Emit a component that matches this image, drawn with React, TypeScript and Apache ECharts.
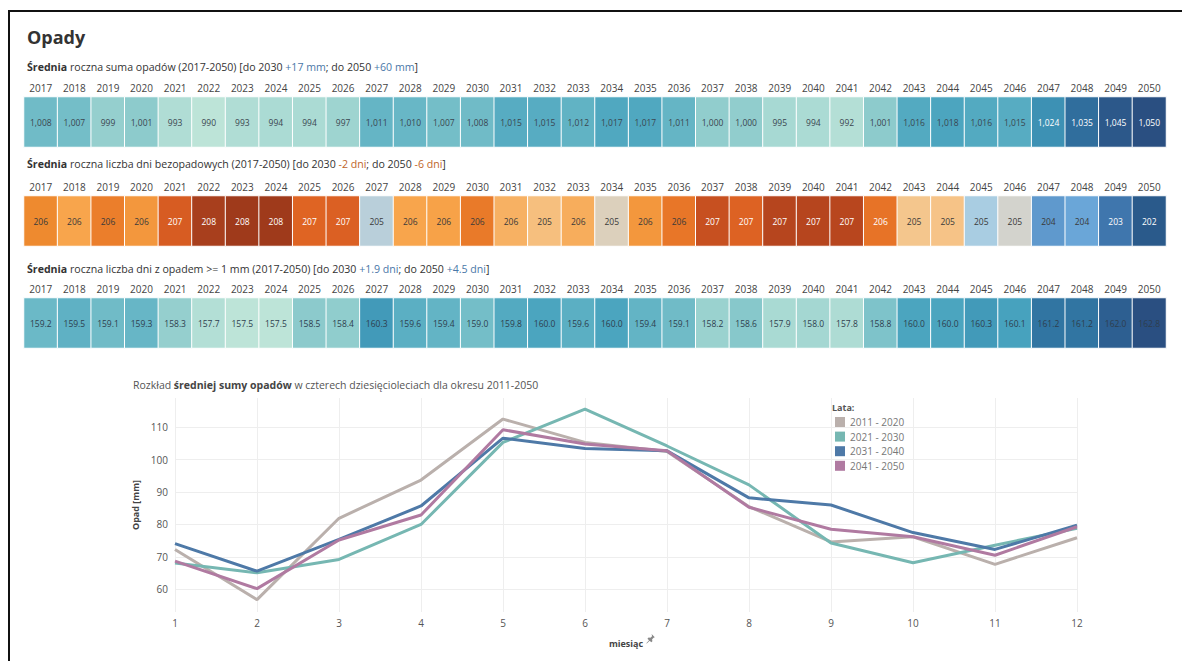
import React, { useEffect, useRef } from 'react';
import * as echarts from 'echarts';

const years = ['2017','2018','2019','2020','2021','2022','2023','2024','2025','2026','2027','2028','2029','2030','2031','2032','2033','2034','2035','2036','2037','2038','2039','2040','2041','2042','2043','2044','2045','2046','2047','2048','2049','2050'];

// Średnia roczna suma opadów [mm]
const rainfallSum = [1008,1007,999,1001,993,990,993,994,994,997,1011,1010,1007,1008,1015,1015,1012,1017,1017,1011,1000,1000,995,994,992,1001,1016,1018,1016,1015,1024,1035,1045,1050];

// Średnia roczna liczba dni bezopadowych (estimated unrounded values read from the colours; labels are rounded)
const dryDays = [206.2,205.8,206.35,206.0,206.95,207.8,208.0,208.0,206.75,206.85,204.75,205.8,205.85,206.4,205.65,205.48,205.7,205.1,206.0,206.45,207.2,206.8,207.45,207.45,207.4,206.49,205.38,205.42,204.6,205.0,203.9,204.2,203.0,202.2];

// Średnia roczna liczba dni z opadem >= 1 mm
const rainyDays = [159.2,159.5,159.1,159.3,158.3,157.7,157.5,157.5,158.5,158.4,160.3,159.6,159.4,159.0,159.8,160.0,159.6,160.0,159.4,159.1,158.2,158.6,157.9,158.0,157.8,158.8,160.0,160.0,160.3,160.1,161.2,161.2,162.0,162.8];

const months = ['1','2','3','4','5','6','7','8','9','10','11','12'];
const decades = ['2011 - 2020','2021 - 2030','2031 - 2040','2041 - 2050'];
const precip2011 = [72.3,56.8,81.9,93.7,112.5,105.3,102.5,85.5,74.6,76.2,67.7,75.9];
const precip2021 = [68.1,65.1,69.2,80.0,105.3,115.6,104.2,92.2,74.3,68.2,73.6,78.8];
const precip2031 = [74.1,65.6,75.4,85.7,106.6,103.4,102.7,88.2,86.0,77.5,72.3,79.8];
const precip2041 = [68.7,60.2,75.2,82.9,109.2,104.8,102.7,85.3,78.5,76.2,70.5,79.3];

const FONT = '"Open Sans", "Noto Sans", sans-serif';
const BLUE_TEAL = ['#bde4d8','#91cdcd','#68b7c6','#45a1bd','#327aa6','#2d6193','#2a4f81'];
const ORANGE_BLUE = ['#22507f','#2a5a8b','#33669a','#3f76ad','#4a82b8','#5b95c9','#6aa6d8','#a9cde2','#d3d3cd','#f6c58a','#f8a54c','#ee8a2f','#e56a24','#d55a22','#b8461e','#a83f1d','#96351a'];
const LINE_COLORS = ['#bab0ac','#76b7b2','#4e79a7','#b07aa1'];

const PIN = 'M7 0 L11 4 L9.6 4.6 L7.6 6.6 L8 9 L6.6 10.4 L4.6 8.4 L1 12 L0.4 11.6 L3.8 7.8 L1.8 5.8 L3.2 4.4 L5.6 4.8 L7.6 2.8 Z';

export default function App() {
  const ref = useRef<HTMLDivElement>(null);
  useEffect(() => {
    if (!ref.current) return;
    try {
      echarts.graphic.registerShape('pin', echarts.graphic.extendPath(PIN, {}) as any);
    } catch (e) { /* already registered */ }
    const chart = echarts.init(ref.current, undefined, { renderer: 'svg' });

    const heatRows = [
      { top: 97, data: rainfallSum.map((v, i) => ({ value: [i, 0, v], label: { color: v >= 1020 ? '#ffffff' : '#3a4650' } })),
        fmt: (v: number) => v.toLocaleString('en-US') },
      { top: 196, data: dryDays.map((v, i) => ({ value: [i, 0, v], label: { color: (v >= 206.47 || v <= 203.5) ? '#ffffff' : '#3a3a3a' } })),
        fmt: (v: number) => String(Math.round(v)) },
      { top: 298, data: rainyDays.map((v, i) => ({ value: [i, 0, v], label: { color: '#2e3e4e' } })),
        fmt: (v: number) => v.toFixed(1) },
    ];

    const grids: any[] = heatRows.map((r) => ({ left: 24, width: 1142, top: r.top, height: 50 }));
    grids.push({ left: 175, right: 105, top: 398, bottom: 49 });

    const xAxes: any[] = heatRows.map((_, gi) => ({
      type: 'category', gridIndex: gi, data: years, position: 'top',
      axisLine: { show: false }, axisTick: { show: false }, splitLine: { show: false },
      axisLabel: { color: '#444', fontSize: 10, fontFamily: FONT, margin: 4 },
    }));
    xAxes.push({
      type: 'category', gridIndex: 3, data: months, boundaryGap: false,
      axisLine: { show: false }, axisTick: { show: false },
      splitLine: { show: true, lineStyle: { color: '#eeeeee', width: 1 } },
      axisLabel: { color: '#555', fontSize: 10, fontFamily: FONT, margin: 6 },
      name: 'miesiąc', nameLocation: 'middle', nameGap: 27,
      nameTextStyle: { fontSize: 9, fontWeight: 'bold', color: '#444', fontFamily: FONT },
    });
    const yAxes: any[] = heatRows.map((_, gi) => ({
      type: 'category', gridIndex: gi, data: [''], show: false,
    }));
    yAxes.push({
      type: 'value', gridIndex: 3, min: 53, max: 119, splitNumber: 7,
      axisLine: { show: false }, axisTick: { show: false },
      splitLine: { show: true, showMinLine: false, showMaxLine: false, lineStyle: { color: '#eeeeee', width: 1 } },
      axisLabel: { color: '#555', fontSize: 10, fontFamily: FONT, margin: 7, showMinLabel: false, showMaxLabel: false },
      name: 'Opad [mm]', nameLocation: 'middle', nameRotate: 90, nameGap: 30,
      nameTextStyle: { fontSize: 9, fontWeight: 'bold', color: '#444', fontFamily: FONT },
    });

    const series: any[] = heatRows.map((r, gi) => ({
      type: 'heatmap', xAxisIndex: gi, yAxisIndex: gi, data: r.data,
      itemStyle: { borderColor: '#ffffff', borderWidth: 1 },
      label: { show: true, fontSize: 8.5, fontFamily: FONT, formatter: (p: any) => r.fmt(p.value[2]) },
      emphasis: { disabled: true },
    }));
    const lineData = [precip2011, precip2021, precip2031, precip2041];
    decades.forEach((name, i) => {
      series.push({
        type: 'line', name, xAxisIndex: 3, yAxisIndex: 3, data: lineData[i],
        symbol: 'none', lineStyle: { width: 3, color: LINE_COLORS[i] }, itemStyle: { color: LINE_COLORS[i] },
      });
    });

    const SUB = 10.6;
    const richBase = { fontSize: SUB, fontFamily: FONT, fill: '#333' };
    chart.setOption({
      animation: false,
      grid: grids,
      xAxis: xAxes,
      yAxis: yAxes,
      visualMap: [
        { show: false, seriesIndex: 0, dimension: 2, min: 990, max: 1050, inRange: { color: BLUE_TEAL } },
        { show: false, seriesIndex: 1, dimension: 2, min: 201.8, max: 208.2, inRange: { color: ORANGE_BLUE } },
        { show: false, seriesIndex: 2, dimension: 2, min: 157.5, max: 162.8, inRange: { color: BLUE_TEAL } },
      ],
      legend: {
        data: decades, orient: 'vertical', left: 835, top: 417, padding: 0,
        itemWidth: 10, itemHeight: 10, itemGap: 4.6, icon: 'rect',
        textStyle: { fontSize: 10, color: '#777', fontFamily: FONT },
      },
      series,
      graphic: [
        { type: 'line', shape: { x1: 8, y1: 11, x2: 1182, y2: 11 }, style: { stroke: '#111', lineWidth: 2 } },
        { type: 'line', shape: { x1: 9, y1: 10, x2: 9, y2: 661 }, style: { stroke: '#111', lineWidth: 2 } },
        { type: 'text', x: 27, y: 37, style: { text: 'Opady', fontSize: 18, fontWeight: 'bold', fontFamily: FONT, fill: '#333', verticalAlign: 'middle' } },
        { type: 'text', x: 27, y: 67, style: {
          text: '{b|Średnia} roczna suma opadów (2017-2050) [do 2030 {c|+17 mm}; do 2050 {c|+60 mm}]',
          ...richBase, verticalAlign: 'middle',
          rich: { b: { fontWeight: 'bold', fontSize: SUB, fontFamily: FONT, fill: '#333' }, c: { fontSize: SUB, fontFamily: FONT, fill: '#4a77a8' } },
        } },
        { type: 'text', x: 27, y: 164, style: {
          text: '{b|Średnia} roczna liczba dni bezopadowych (2017-2050) [do 2030 {c|-2 dni}; do 2050 {c|-6 dni}]',
          ...richBase, verticalAlign: 'middle',
          rich: { b: { fontWeight: 'bold', fontSize: SUB, fontFamily: FONT, fill: '#333' }, c: { fontSize: SUB, fontFamily: FONT, fill: '#c0662a' } },
        } },
        { type: 'text', x: 27, y: 269, style: {
          text: '{b|Średnia} roczna liczba dni z opadem >= 1 mm (2017-2050) [do 2030 {c|+1.9 dni}; do 2050 {c|+4.5 dni}]',
          ...richBase, verticalAlign: 'middle',
          rich: { b: { fontWeight: 'bold', fontSize: SUB, fontFamily: FONT, fill: '#333' }, c: { fontSize: SUB, fontFamily: FONT, fill: '#4a77a8' } },
        } },
        { type: 'text', x: 133, y: 385, style: {
          text: 'Rozkład {b|średniej sumy opadów} w czterech dziesięcioleciach dla okresu 2011-2050',
          fontSize: 10.5, fontFamily: FONT, fill: '#555', verticalAlign: 'middle',
          rich: { b: { fontWeight: 'bold', fontSize: 10.5, fontFamily: FONT, fill: '#444' } },
        } },
        { type: 'text', x: 832, y: 407, style: { text: 'Lata:', fontSize: 9, fontWeight: 'bold', fontFamily: FONT, fill: '#555', verticalAlign: 'middle' } },
        { type: 'pin', x: 646, y: 634, scaleX: 0.8, scaleY: 0.8, style: { fill: '#888' } },
      ],
    });
    return () => chart.dispose();
  }, []);
  return <div ref={ref} style={{ position: 'fixed', left: 0, top: 0, width: 1182, height: 661, background: '#fff' }} />;
}
